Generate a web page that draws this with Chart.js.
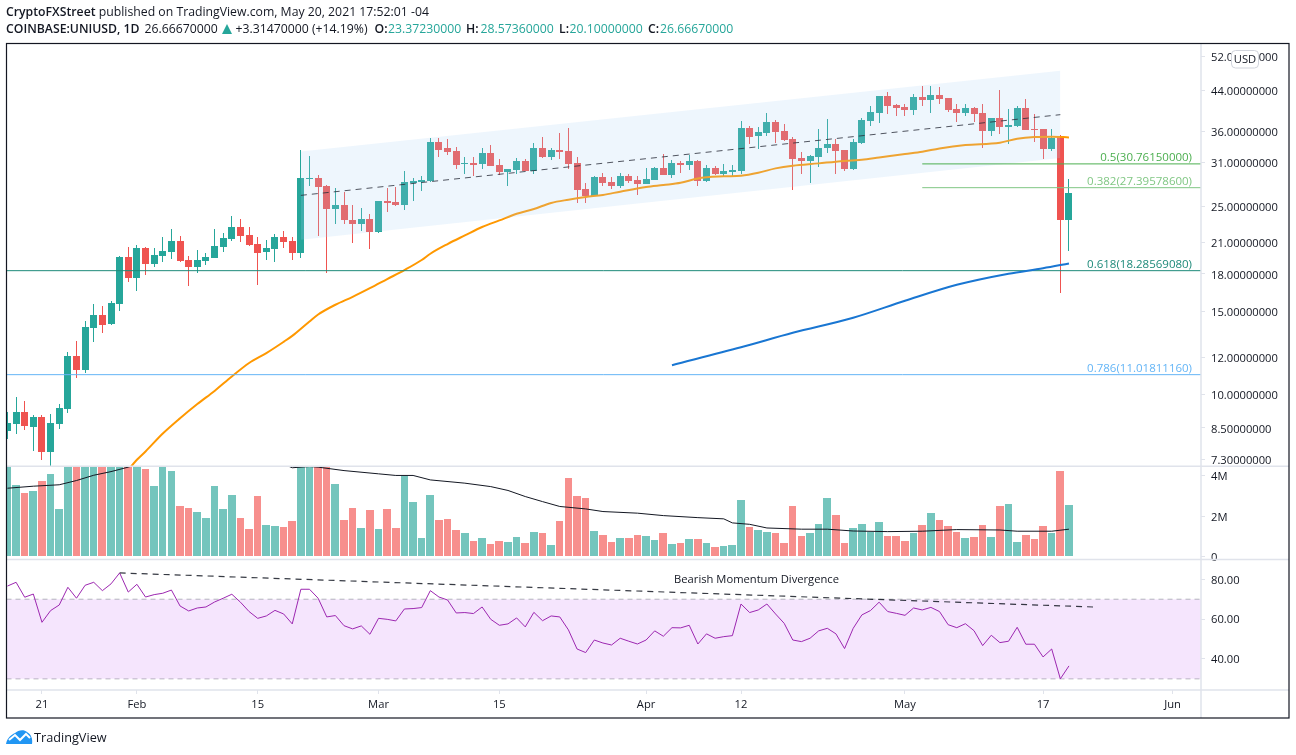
<!DOCTYPE html>
<html><head><meta charset="utf-8">
<script src="https://cdn.jsdelivr.net/npm/chart.js@4/dist/chart.umd.js"></script>
<style>
html,body{margin:0;padding:0;background:#fff;width:1296px;height:755px;overflow:hidden}
body{font-family:"Open Sans",sans-serif;color:#131722;position:relative}
canvas{position:absolute;left:0;top:0}
.t{position:absolute;white-space:nowrap;font-size:12.25px;line-height:16px}
.l2{top:21px}
.g{color:#26a69a}
b{font-weight:600}
</style></head><body>
<canvas id="c" width="1296" height="755"></canvas>
<div class="t" style="left:6px;top:4px"><b>CryptoFXStreet</b> published on TradingView.com, May 20, 2021 17:52:01 -04</div>
<div class="t l2" style="left:6px"><b>COINBASE:UNIUSD, 1D</b></div>
<div class="t l2" style="left:144.5px">26.66670000</div>
<svg style="position:absolute;left:222px;top:24px" width="10" height="10" viewBox="0 0 10 10"><path d="M5 0 10 10H0Z" fill="#26a69a"/></svg>
<div class="t l2" style="left:235.5px">+3.31470000 (+14.19%)</div>
<div class="t l2" style="left:374.5px"><b>O:</b></div><div class="t l2 g" style="left:388px">23.37230000</div>
<div class="t l2" style="left:466px"><b>H:</b></div><div class="t l2 g" style="left:480.5px">28.57360000</div>
<div class="t l2" style="left:559px"><b>L:</b></div><div class="t l2 g" style="left:569.5px">20.10000000</div>
<div class="t l2" style="left:648px"><b>C:</b></div><div class="t l2 g" style="left:660px">26.66670000</div>
<svg style="position:absolute;left:6px;top:729px" width="27" height="15" viewBox="0 0 27 15"><path d="M0 15C1 9 5 6 9 4 12 1 18 0 21 3 25 5 27 10 26 15Z" fill="#2196f3"/><path d="M3 11 9 6 14 11 20 5 24 9" fill="none" stroke="#fff" stroke-width="2"/></svg>
<div class="t" style="left:34px;top:729px;font-size:12.7px">TradingView</div>
<script>
// Day index 0 = 21 Jan 2021; the first candle is 17 Jan.
const firstDay = -4;
const opens = [8.38,8.67,9.19,8.54,8.97,7.57,8.67,9.33,12.08,11.28,13.85,14.75,14.12,15.56,19.57,
17.67,20.45,18.92,19.67,20.05,21.16,19.29,18.64,19.20,19.48,20.55,21.37,22.65,21.78,20.85,20.05,20.35,21.57,21.16,19.95,28.62,28.76,27.66,24.73,25.22,23.44,22.99,23.55,
22.10,25.71,25.59,25.22,28.07,28.20,28.34,34.27,33.28,32.80,30.79,30.94,30.79,32.48,30.65,29.61,29.90,31.25,29.75,33.28,31.86,32.96,32.80,30.94,27.26,26.35,28.90,28.20,27.66,29.04,28.48,
27.93,28.48,30.20,29.18,30.94,30.65,31.25,28.34,30.20,29.32,29.61,29.75,36.69,35.29,35.81,37.78,36.16,34.78,31.71,31.25,31.86,33.28,33.94,32.96,30.05,34.11,37.96,39.49,42.89,41.06,
40.65,40.06,42.68,42.06,43.09,42.48,40.26,39.49,40.45,39.49,36.16,38.52,36.88,37.06,40.45,36.52,36.52,33.12,35.12,23.37];
const highs = [9.19,9.90,9.70,9.06,9.06,9.10,9.56,12.32,13.00,14.33,15.56,15.41,15.79,19.67,20.55,
20.75,20.55,20.45,21.57,22.43,21.68,19.67,20.25,19.95,22.43,22.00,23.90,23.55,22.65,21.57,21.26,21.89,22.21,21.57,32.96,32.01,29.18,27.80,27.39,26.87,25.22,24.85,24.13,
25.71,27.39,27.53,29.75,28.76,29.04,34.95,34.95,34.78,33.45,31.86,31.86,33.28,33.78,31.55,30.05,31.71,31.55,34.11,35.12,33.28,35.81,36.69,31.86,28.07,29.04,29.46,28.90,29.46,29.32,29.04,
30.20,30.35,32.33,31.40,31.25,32.17,31.40,30.65,30.50,30.79,30.65,37.96,37.06,36.88,39.49,38.15,37.41,35.12,32.64,32.17,36.52,38.34,34.78,32.96,34.78,38.52,40.69,42.89,43.73,41.26,
41.26,43.31,45.00,45.00,44.80,42.48,41.26,41.26,40.65,41.26,38.52,44.00,40.26,40.87,42.27,39.30,36.52,36.52,35.47,28.57];
const lows = [8.06,8.26,8.42,7.60,7.28,7.07,8.46,9.15,10.85,11.12,12.93,13.51,14.05,15.04,17.32,
16.58,17.93,18.64,19.10,19.38,19.10,16.99,18.11,18.83,19.48,20.05,21.16,21.06,20.65,17.07,19.29,19.10,20.45,19.29,19.48,27.66,21.68,18.11,22.99,22.99,20.95,22.21,20.35,
22.00,24.37,25.10,24.61,25.71,27.00,28.20,31.86,32.17,30.05,29.32,29.04,30.05,30.50,29.18,27.66,29.32,29.75,29.32,31.71,31.40,31.55,30.05,25.46,25.46,26.35,27.66,27.26,27.39,28.07,26.48,
27.93,28.48,29.18,28.76,29.46,29.90,27.66,28.20,29.18,29.04,29.04,29.32,33.94,33.12,35.29,34.11,34.44,27.13,29.32,28.07,30.35,32.48,29.32,29.75,29.90,33.94,37.06,37.60,39.30,38.90,
38.90,39.10,40.87,39.49,41.26,39.68,37.78,38.90,37.78,33.28,35.29,35.64,33.94,36.88,36.34,34.27,31.55,32.80,16.42,20.10];
const closes = [8.71,9.19,8.59,8.97,7.57,8.71,9.38,12.08,11.28,13.92,14.75,14.05,15.64,19.57,17.67,
20.45,18.92,19.76,20.15,21.16,19.20,18.64,19.29,19.57,20.65,21.47,22.65,21.68,20.75,19.95,20.45,21.57,21.06,19.95,28.76,28.76,27.53,24.73,25.22,23.44,22.99,23.55,22.10,
25.71,25.46,25.22,28.20,28.34,28.48,34.27,32.96,32.64,30.65,30.94,30.65,32.48,30.50,29.61,30.05,31.25,29.75,33.28,31.86,32.96,32.64,30.79,27.13,26.35,28.90,28.07,27.66,29.04,28.34,27.93,
28.62,30.20,29.18,30.94,30.65,31.25,28.34,30.20,29.32,29.75,29.90,36.69,35.12,35.99,37.78,35.99,34.61,31.55,31.25,32.01,33.28,33.94,32.80,30.05,34.27,38.15,39.68,42.89,40.87,40.45,
40.06,42.68,42.06,43.09,42.27,40.06,39.49,40.45,39.30,36.16,38.52,36.88,37.23,40.45,36.34,36.34,33.12,34.95,23.35,26.67];
const volumes = [4.6,3.56,3.16,3.26,3.75,4.10,2.37,5.2,5.6,5.0,4.8,5.0,4.9,5.4,4.7,
5.0,4.35,3.51,4.7,4.25,2.52,2.42,2.22,1.93,3.51,2.37,3.06,1.93,1.38,3.01,1.58,1.53,1.48,1.78,6.0,5.3,4.9,5.1,3.60,1.83,2.42,1.43,2.32,
1.38,2.37,1.43,4.0,2.72,0.94,3.06,1.83,1.88,1.33,1.19,0.79,0.94,0.64,0.79,0.74,0.99,0.69,1.23,1.19,0.59,1.78,3.90,3.01,2.91,1.28,1.09,0.74,0.94,0.94,1.09,
1.04,0.84,1.19,0.64,0.69,0.89,0.89,0.69,0.49,0.54,0.59,2.81,1.48,1.33,1.23,1.19,0.69,2.52,1.04,1.19,1.63,2.91,2.07,0.69,1.43,1.63,1.23,1.73,1.04,1.04,
0.79,1.19,1.58,2.17,1.83,1.53,1.23,0.94,0.99,1.58,0.99,2.52,2.62,0.74,1.09,0.89,1.53,1.19,4.25,2.57];
const rsiValues = [76.6,78.5,71.0,72.6,58.4,64.3,67.1,76.0,70.5,77.0,78.5,74.3,77.7,83.2,73.6,
77.5,71.1,72.3,73.0,74.6,66.6,64.1,65.6,66.1,68.6,70.5,72.5,68.5,63.8,60.4,61.6,64.4,62.6,57.6,75.0,75.0,70.5,61.1,61.8,56.7,55.1,56.6,52.4,
60.4,59.9,59.1,65.1,65.3,65.8,74.3,71.1,69.6,63.1,63.3,62.8,66.1,59.9,56.9,57.6,60.6,56.1,63.4,59.2,61.6,61.1,54.6,45.0,43.2,49.5,48.0,47.0,50.4,48.9,47.5,
49.5,54.1,51.4,55.7,55.6,56.9,47.5,52.6,50.4,51.2,51.7,67.6,63.3,64.6,67.6,62.6,57.9,49.5,48.7,50.4,54.1,55.4,52.6,45.2,55.4,62.1,64.3,68.5,63.8,62.9,
61.9,65.6,64.6,65.9,63.8,57.2,55.7,57.7,54.2,46.7,51.9,48.2,48.9,55.9,47.4,47.4,41.0,45.0,30.0,36.5];
const maFastDays = [10,11,12,14,16,18,20,22,24,26,28,29,31,32,34,36,38,40,42,44,45,47,49,51,53,55,57,59,61,63,65,67,70,72,74,76,79,81,83,85,87,90,92,95,97,100,102,104,107,111,113,115,117,119];
const maFastValues = [6.93,7.28,7.58,8.27,8.91,9.55,10.18,10.92,11.66,12.24,12.93,13.31,14.28,14.77,15.49,16.10,16.79,17.55,18.34,19.26,19.86,20.82,21.71,22.62,23.36,24.13,24.69,25.43,25.84,26.18,26.45,26.87,27.49,27.76,28.05,28.66,28.95,29.04,29.46,30.10,30.50,30.84,31.10,31.40,31.75,32.29,32.64,33.17,33.73,34.11,34.78,35.07,35.12,35.0];
const maSlowDays = [73,81,87,94,100,106,112,116,119];
const maSlowValues = [11.54,12.59,13.51,14.54,15.79,17.07,18.02,18.50,18.94];
const volMaDays = [-4,-1,2,4,6,8,10,20,29,31,32,35,39,41,43,45,49,52,54,56,58,60,63,65,69,72,76,79,80,82,84,88,91,94,98,102,106,111,113,117,119];
const volMaValues = [3.39,3.49,3.56,3.77,4.03,4.21,4.43,6.0,4.40,4.46,4.43,4.26,4.10,4.02,4.02,3.80,3.64,3.47,3.28,2.98,2.73,2.49,2.37,2.24,2.16,2.04,1.94,1.88,1.68,1.61,1.43,1.37,1.37,1.28,1.25,1.27,1.35,1.33,1.27,1.27,1.37];
const channelDays = [30,118];
const channelUpper = [32.69,48.45];
const channelMiddle = [26.39,39.10];
const channelLower = [21.26,31.66];
const divergenceDays = [9,121.8];
const divergenceValues = [83.2,66.1];
const fibRatios = ['0.5','0.382','0.618','0.786'];
const fibPrices = [30.7615,27.395786,18.2856908,11.0181116];
const fibTexts = ['30.76150000','27.39578600','18.28569080','11.01811160'];
const fibStartDays = [102,102,-4.11,-4.11];
const fibColors = ['#4caf50','#81c784','#1e8a7a','#64b5f6'];
const xRange = [-4.11,134.3];
const priceRange = [7.05,55.3];
const volRange = [-0.12,4.47];
const rsiRange = [24.4,90.0];
const rsiBand = [70,30];
const priceTicks = [52,44,36,31,25,21,18,15,12,10,8.5,7.3];
const volTicks = [4,2,0];
const rsiTicks = [80,60,40];
const xTickDays = [0,11,25,39,53,70,81,100,116,131];
const xTickLabels = ['21','Feb','15','Mar','15','Apr','12','May','17','Jun'];

const FONT = '"Open Sans", sans-serif';
const UP = '#26a69a', DOWN = '#ef5350', VUP = '#74c5bd', VDOWN = '#f78f8d', AXIS = '#e0e3eb', TEXT = '#131722';
const dayAt = i => i + firstDay;
const isUp = opens.map((o,i) => closes[i] >= o);
const candleColors = isUp.map(u => u ? UP : DOWN);
const xy = (xs, ys) => xs.map((x,i) => ({x, y: ys[i]}));
const line = (data, yAxisID, extra) => Object.assign({type:'line', data, yAxisID, pointRadius:0, tension:0, borderWidth:1, fill:false}, extra);
const bar = (data, yAxisID, extra) => Object.assign({type:'bar', data, yAxisID, grouped:false, inflateAmount:0, borderWidth:0}, extra);

const datasets = [
  bar(lows.map((l,i) => ({x:dayAt(i), y:[l, highs[i]]})), 'yPrice', {barThickness:1, backgroundColor:candleColors, order:20, snap:'wick'}),
  bar(opens.map((o,i) => ({x:dayAt(i), y:[o, closes[i]]})), 'yPrice', {barThickness:7, backgroundColor:candleColors, order:19, snap:'body'}),
  line(xy(channelDays, channelUpper), 'yPrice', {borderWidth:0, borderColor:'transparent', fill:'+1', backgroundColor:'rgba(170,210,245,0.2)', order:10}),
  line(xy(channelDays, channelLower), 'yPrice', {borderWidth:0, borderColor:'transparent', order:10}),
  line(xy(channelDays, channelMiddle), 'yPrice', {borderColor:'rgba(40,44,56,0.8)', borderDash:[6,5], order:5}),
  line(xy(maFastDays, maFastValues), 'yPrice', {borderColor:'#ff9800', borderWidth:2, cubicInterpolationMode:'monotone', order:12}),
  line(xy(maSlowDays, maSlowValues), 'yPrice', {borderColor:'#1976d2', borderWidth:2, cubicInterpolationMode:'monotone', order:4}),
  ...fibPrices.map((p,i) => line([{x:fibStartDays[i], y:p},{x:xRange[1], y:p}], 'yPrice', {borderColor:fibColors[i], order:6})),
  bar(volumes.map((v,i) => ({x:dayAt(i), y:v})), 'yVol', {barThickness:8, backgroundColor:isUp.map(u => u ? VUP : VDOWN), order:9, snap:'vol'}),
  line(xy(volMaDays, volMaValues), 'yVol', {borderColor:'#131722', order:3}),
  line(xRange.map(x => ({x, y:rsiBand[0]})), 'yRsi', {borderColor:'rgba(120,123,134,0.55)', borderDash:[5,4], fill:'+1', backgroundColor:'rgba(197,110,245,0.18)', order:8}),
  line(xRange.map(x => ({x, y:rsiBand[1]})), 'yRsi', {borderColor:'rgba(120,123,134,0.55)', borderDash:[5,4], order:8}),
  line(rsiValues.map((r,i) => ({x:dayAt(i), y:r})), 'yRsi', {borderColor:'#9c27b0', order:2}),
  line(xy(divergenceDays, divergenceValues), 'yRsi', {borderColor:'rgba(19,23,34,0.85)', borderWidth:1.2, borderDash:[6,5], order:1}),
];

const setTicks = values => scale => { scale.ticks = values.map(value => ({value})); };
const tickFont = {family:FONT, size:11.2};
const yBase = {position:'right', stack:'panes', bounds:'data', border:{display:false},
  grid:{drawOnChartArea:false, drawTicks:true, tickLength:4, color:AXIS},
  afterFit: s => { s.width = 88; }};
const yTicks = (cb, labelOffset) => ({color:TEXT, font:tickFont, padding:6, autoSkip:false, maxRotation:0, labelOffset, callback:cb});

const panesPlugin = {
  id:'panes',
  afterDatasetsUpdate(chart){
    chart.data.datasets.forEach((ds,di) => {
      if(!ds.snap) return;
      chart.getDatasetMeta(di).data.forEach(el => {
        if(ds.snap === 'vol'){
          const l = Math.round(el.x-3.9), r = Math.round(el.x+3.7);
          el.x = (l+r)/2; el.width = r-l;
        } else {
          el.x = Math.floor(el.x)+0.5;
        }
        const top = Math.round(Math.min(el.y, el.base));
        let bottom = Math.round(Math.max(el.y, el.base));
        if(bottom <= top) bottom = top+1;
        el.y = top; el.base = bottom; el.height = bottom-top;
      });
    });
  },
  afterDraw(chart){
    const {ctx, scales:{x, yPrice, yVol, yRsi}} = chart;
    const px = yPrice.left, L = x.left, R = yPrice.right;
    ctx.save();
    ctx.strokeStyle = AXIS; ctx.lineWidth = 1.5;
    ctx.beginPath();
    [yVol.top, yRsi.top, yRsi.bottom].forEach(y => { ctx.moveTo(L,y); ctx.lineTo(R,y); });
    ctx.moveTo(px,yPrice.top); ctx.lineTo(px,x.bottom);
    ctx.stroke();
    // fib labels
    ctx.font = '11.5px '+FONT; ctx.textAlign = 'right'; ctx.textBaseline = 'bottom';
    fibPrices.forEach((p,i) => {
      ctx.fillStyle = fibColors[i];
      ctx.fillText(fibRatios[i]+'('+fibTexts[i]+')', px-9, yPrice.getPixelForValue(p)-0.5);
    });
    // divergence note
    ctx.font = '11.2px '+FONT;
    ctx.fillStyle = TEXT; ctx.textAlign = 'center'; ctx.textBaseline = 'middle';
    ctx.fillText('Bearish Momentum Divergence', x.getPixelForValue(82.8), yRsi.getPixelForValue(80));
    // currency badge
    const bx = px+30.5, by = yPrice.top+7;
    ctx.beginPath(); ctx.roundRect(bx,by,27,17.5,4);
    ctx.fillStyle = '#fff'; ctx.fill(); ctx.strokeStyle = '#d1d4dc'; ctx.lineWidth = 1; ctx.stroke();
    ctx.fillStyle = TEXT; ctx.fillText('USD', bx+13.5, by+9);
    // outer frame
    ctx.strokeStyle = TEXT; ctx.lineWidth = 1.2;
    ctx.strokeRect(L, yPrice.top, R-L, x.bottom-yPrice.top);
    ctx.restore();
  }
};

new Chart(document.getElementById('c'), {
  type:'bar',
  data:{datasets},
  plugins:[panesPlugin],
  options:{
    responsive:false, animation:false, devicePixelRatio:1, events:[],
    layout:{padding:{left:6.5, top:43.5, right:7, bottom:37}},
    plugins:{legend:{display:false}, tooltip:{enabled:false}},
    scales:{
      x:{type:'linear', position:'bottom', min:xRange[0], max:xRange[1], bounds:'data', offset:false,
        border:{display:false}, grid:{offset:false, drawOnChartArea:false, tickLength:4, color:AXIS},
        afterBuildTicks:setTicks(xTickDays),
        afterFit: s => { s.height = 28; },
        ticks:{color:TEXT, font:tickFont, padding:4, autoSkip:false, maxRotation:0,
          callback:v => xTickLabels[xTickDays.indexOf(v)]}},
      yPrice:{...yBase, type:'logarithmic', weight:1, stackWeight:422.5, min:priceRange[0], max:priceRange[1],
        afterBuildTicks:setTicks(priceTicks), ticks:yTicks(v => v.toFixed(8), 1.5)},
      yVol:{...yBase, type:'linear', weight:2, stackWeight:93, min:volRange[0], max:volRange[1],
        afterBuildTicks:setTicks(volTicks), ticks:yTicks(v => v === 0 ? '0' : v+'M', 1)},
      yRsi:{...yBase, type:'linear', weight:3, stackWeight:130.5, min:rsiRange[0], max:rsiRange[1],
        afterBuildTicks:setTicks(rsiTicks), ticks:yTicks(v => v.toFixed(2), 1)}
    }
  }
});
</script>
</body></html>
